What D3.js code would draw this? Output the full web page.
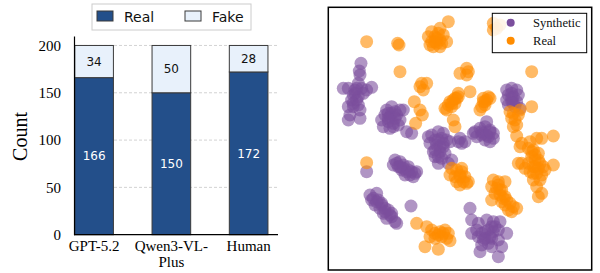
<!DOCTYPE html>
<html>
<head>
<meta charset="utf-8">
<script src="https://cdn.jsdelivr.net/npm/d3@7"></script>
<style>
  body { margin: 0; background: #fff; }
  svg { display: block; }
</style>
</head>
<body>
<svg id="chart" width="600" height="273"></svg>
<script>
// ---- bar chart data ----
var models = ["GPT-5.2", "Qwen3-VL-Plus", "Human"];
var modelLines = [["GPT-5.2"], ["Qwen3-VL-", "Plus"], ["Human"]];
var realCounts = [166, 150, 172];
var fakeCounts = [34, 50, 28];
var yTicks = [0, 50, 100, 150, 200];

// ---- t-SNE style embedding ----
var synthetic = [
  [-29.2,21],[-29.7,18.7],[-29.5,17.5],[-30,15],[-34.5,13.5],[-33,13.5],[-31,13],[-29,13.5],[-27.5,13],[-26,13.8],
  [-31.5,11.5],[-30,11],[-32,10],[-33,8],[-31.5,8],[-29.5,7],[-32.5,5.5],[-33,4],[-29.5,4.5],[-30.5,10],[-28.5,12],
  [-31,12],[-30.5,13.5],[-31.5,9],[-30,8.5],
  [-20,8],[-21.5,7],[-19,6.5],[-17.5,7],[-16.5,7],[-22,5.5],[-20.5,5],[-18.5,5.5],[-23,4],[-21,3.5],[-19.5,3],
  [-18,2.5],[-22.5,2],[-20.5,1.5],[-17.5,4],[-15.5,0.5],[-14,0],[-21,6],
  [-20,6],[-19,4.5],[-21,4.5],[-19.5,2],
  [-8,-0.5],[-6,0.5],[-4.5,0],[-7,-2],[-5,-1.5],[-3.5,-2],[-8.5,-3],[-6.5,-3.5],[-4.5,-4],[-2.5,-2.5],[-7.5,-5.5],
  [-5.5,-5.5],[-4,-6],[-7,-7],[-5,-7.5],[-6,-9],[-3,-9],[-2,-8],[-9,-1],
  [-6,-2],[-5.5,-4],[-7,-5],[-4.5,-3],[-6,-7],
  [0.5,-1.5],[2,-2.5],[1,-3],[0,-2.5],
  [5,0.5],[6.5,1.5],[8,2],[9.5,1],[10.5,0],[5.5,-1],[7,-0.5],[9,-1],[10.5,-1.5],[8,-2],[9.5,-2.5],[4.5,0],[8.5,3.5],[7,0.5],
  [7.5,0],[8.5,-0.5],[9.5,0.5],
  [14.5,13],[16,13.5],[17.5,13],[15,11.5],[16.5,11],[18,11.5],[14.5,10],[16,9.5],[17.5,9.5],[15,8.5],[17,8],[18.5,7.5],
  [16,12],[16,10.5],[16.5,9],
  [-19,-8],[-17.5,-8.5],[-19.5,-9.5],[-18,-10],[-16.5,-9.5],[-15,-10],[-17,-11],[-15.5,-11.5],[-14,-11.5],[-16,-12.5],
  [-14.5,-12.5],[-13,-12],[-12.5,-11.5],[-13.5,-13],[-18.5,-9],
  [-16.5,-10.5],[-15,-11],[-17.5,-10],
  [-27.5,-11.5],
  [-26.5,-18.5],[-24.5,-18],[-25.5,-19.5],[-24,-20],[-23,-21],[-25,-21.5],[-23.5,-22.5],[-22,-22.5],[-21,-23],[-22.5,-24],
  [-20.5,-24.5],[-21.5,-25.5],[-20,-25],[-19,-26.5],[-18.5,-27],[-26,-20],[-20,-24],
  [-23,-21.5],[-22,-23.5],[-24.5,-20.5],
  [-14.2,-21.8],
  [3.5,-22.5],[4,-26],[6,-27],[8.5,-26],[10.5,-26.5],[12.5,-26.5],[14.5,-30],[5.5,-29],[7,-30],[9,-29],[10.5,-29.5],[12,-29],
  [6,-31],[8,-31.5],[10,-31.5],[12,-32],[7,-33.5],[9,-33],[10,-34],[6.5,-35.5],[12,-37],[4,-30],[13,-34],[11,-28],
  [8,-29.5],[9.5,-31],[7.5,-32],[10,-28]
];
var real = [
  [-27.5,27.5],[-18.2,27],[-17.8,26.5],[-17.5,18.5],[-27.5,-8.8],[22,18.5],[22,8],[28.5,-0.8],
  [-8,30.5],[-5.5,31.5],[-3,33.5],[-9,29],[-7,29],[-4.5,29.5],[-8,27.5],[-5.5,28],[-3.5,27.5],[-7.5,26],[-5.5,26],
  [-6.5,27],[-8.5,26.5],[-5,27],[-6.5,28.5],[-7,27.5],[-6,30],
  [10.5,33],[11.5,31.5],[10.5,31],[12.5,32.5],
  [0.5,18],[2.5,19.5],[3,18.5],[2.5,17.5],
  [-11,15],[-9.5,15],[-10.5,13],[-11.5,14],
  [-13.2,9.5],[-11.5,7],[-10.8,5.5],[-12.8,3],
  [0,12],[-0.5,10.5],[-1.5,10],[-2.5,9.5],[-3,8.5],[-4,7.5],[-2,8],[-1,9],[-3.5,7],[0,11],[3.5,12.5],[-1.5,4],[-1,2],
  [-2,9],[-1,10.5],
  [9,11],[8.5,10],[7.5,9.5],[8,8.5],[7,8],[6.5,7],[9.5,10.5],[7.5,10.5],[8,9.5],
  [15.5,6.5],[16.5,6],[18,5.5],[17,4],[16,4.5],[17.5,2.5],[16.5,2],[18.5,7],
  [17.5,-0.8],[19,-3],[18.5,-4],
  [21.5,-2.5],[23.5,-1.5],[25,-1.5],[21,-4.5],[22.5,-5],[24,-6],[22,-7],[23,-8],[24.5,-9],[25.5,-10],[21,-9],[22.5,-10],
  [24,-10.5],[26,-11],[21.5,-11.5],[23.5,-12],[25,-12.5],[22.5,-14],[24.5,-14],[23.5,-16],[24,-19],[25,-18],[28.5,-9.5],
  [20,-10.5],[19,-9],[22,-5.5],[18,-9],[23,-10],[23,-6.5],[22.5,-12],[24,-8],
  [-2,-10.5],[-0.5,-11],[1,-10.5],[-2.5,-12.5],[-1,-13],[0.5,-12.5],[2,-13],[-0.5,-14.5],[1.5,-14.5],[3,-14.5],[0.5,-15.5],[2.5,-15],
  [0.5,-13],[1,-11.5],
  [10.5,-14],[12,-14.5],[14,-14.5],[10,-16],[11.5,-16.5],[13,-17],[11,-18],[12.5,-18.5],[14,-19],[10,-20],[14.5,-20],
  [15.5,-21],[14,-21.5],[16.5,-22],[17.5,-22.5],[16,-23.5],[15,-23],[13,-20.5],[12.5,-17],[13.5,-19.5],[12,-15.5],
  [-12.5,-27],[-9.5,-28],[-8,-29],[-7,-30],[-8.5,-31],[-5.5,-29.5],[-4,-29],[-3,-30],[-5,-31],[-3.5,-31.5],[-10,-34],
  [-6,-34.8],[-2.5,-32.2],[-7,-31.5],[-6,-30.5],[-4.5,-30]
];
var scatterSeries = ["Synthetic", "Real"];

var realColor = "#234f8a", fakeColor = "#e8f1fb";
var synColor = "#7b4f9d", realPtColor = "#ff8c00";

var svg = d3.select("#chart");

// ================= left: stacked bars =================
var x = d3.scaleLinear().domain([-0.26, 2.38]).range([74, 278]);
var y = d3.scaleLinear().domain([0, 210]).range([234.7, 36]);
var bw = x(0.5) - x(0);

var left = svg.append("g");

left.selectAll(".grid")
  .data(yTicks.filter(function(d) { return d > 0; }))
  .enter().append("line")
  .attr("x1", x(-0.26)).attr("x2", x(2.38))
  .attr("y1", function(d) { return y(d); })
  .attr("y2", function(d) { return y(d); })
  .attr("stroke", "#c8c8c8")
  .attr("stroke-width", 0.8)
  .attr("stroke-dasharray", "3,2");

var bars = left.selectAll(".bar")
  .data(models)
  .enter().append("g");

bars.append("rect")
  .attr("x", function(d, i) { return x(i) - bw / 2; })
  .attr("width", bw)
  .attr("y", function(d, i) { return y(realCounts[i]); })
  .attr("height", function(d, i) { return y(0) - y(realCounts[i]); })
  .attr("fill", realColor)
  .attr("stroke", "#3a3a3a")
  .attr("stroke-width", 1);

bars.append("rect")
  .attr("x", function(d, i) { return x(i) - bw / 2; })
  .attr("width", bw)
  .attr("y", function(d, i) { return y(realCounts[i] + fakeCounts[i]); })
  .attr("height", function(d, i) { return y(realCounts[i]) - y(realCounts[i] + fakeCounts[i]); })
  .attr("fill", fakeColor)
  .attr("stroke", "#3a3a3a")
  .attr("stroke-width", 1);

bars.append("text")
  .attr("x", function(d, i) { return x(i); })
  .attr("y", function(d, i) { return y(realCounts[i] / 2); })
  .attr("dy", "0.36em")
  .attr("text-anchor", "middle")
  .attr("font-family", "DejaVu Sans")
  .attr("font-size", 12)
  .attr("fill", "#fff")
  .text(function(d, i) { return realCounts[i]; });

bars.append("text")
  .attr("x", function(d, i) { return x(i); })
  .attr("y", function(d, i) { return y(realCounts[i] + fakeCounts[i] / 2); })
  .attr("dy", "0.36em")
  .attr("text-anchor", "middle")
  .attr("font-family", "DejaVu Sans")
  .attr("font-size", 12)
  .attr("fill", "#111")
  .text(function(d, i) { return fakeCounts[i]; });

// axes
var yAxis = left.append("g")
  .attr("transform", "translate(" + x(-0.26) + ",0)")
  .call(d3.axisLeft(y).tickValues(yTicks).tickSize(0).tickPadding(13));
yAxis.select(".domain").attr("stroke", "#000").attr("stroke-width", 1.2);
yAxis.selectAll("text")
  .attr("font-family", "Liberation Serif")
  .attr("font-size", 15)
  .attr("fill", "#000");

left.append("line")
  .attr("x1", x(-0.26)).attr("x2", x(2.38))
  .attr("y1", y(0)).attr("y2", y(0))
  .attr("stroke", "#000").attr("stroke-width", 1.2);

var xl = left.selectAll(".xlab")
  .data(modelLines)
  .enter().append("text")
  .attr("text-anchor", "middle")
  .attr("font-family", "Liberation Serif")
  .attr("font-size", 15)
  .attr("fill", "#000");
xl.selectAll("tspan")
  .data(function(d, i) { return d.map(function(s, k) { return { s: s, i: i, k: k }; }); })
  .enter().append("tspan")
  .attr("x", function(d) { return x(d.i); })
  .attr("y", function(d) { return 250.5 + d.k * 16; })
  .text(function(d) { return d.s; });

left.append("text")
  .attr("transform", "translate(27,136.5) rotate(-90)")
  .attr("text-anchor", "middle")
  .attr("font-family", "Liberation Serif")
  .attr("font-size", 20)
  .attr("fill", "#000")
  .text("Count");

// bar legend
var lg = left.append("g");
lg.append("rect")
  .attr("x", 92).attr("y", 4).attr("width", 159).attr("height", 26)
  .attr("fill", "#fff").attr("stroke", "#cccccc").attr("stroke-width", 1);
var legItems = [{ name: "Real", c: realColor, px: 97 }, { name: "Fake", c: fakeColor, px: 185 }];
legItems.forEach(function(d) {
  lg.append("rect")
    .attr("x", d.px).attr("y", 11).attr("width", 16).attr("height", 10)
    .attr("fill", d.c).attr("stroke", "#3a3a3a").attr("stroke-width", 1);
  lg.append("text")
    .attr("x", d.px + 27).attr("y", 21.5)
    .attr("font-family", "DejaVu Sans")
    .attr("font-size", 14)
    .attr("fill", "#111")
    .text(d.name);
});

// ================= right: scatter =================
var sx = d3.scaleLinear().domain([-39, 40]).range([328.3, 591.7]);
var sy = d3.scaleLinear().domain([-41, 37.8]).range([270, 7.3]);
var right = svg.append("g");

right.selectAll(".syn")
  .data(synthetic)
  .enter().append("circle")
  .attr("cx", function(d) { return sx(d[0]); })
  .attr("cy", function(d) { return sy(d[1]); })
  .attr("r", 6.5)
  .attr("fill", synColor)
  .attr("fill-opacity", 0.6);

right.selectAll(".real")
  .data(real)
  .enter().append("circle")
  .attr("cx", function(d) { return sx(d[0]); })
  .attr("cy", function(d) { return sy(d[1]); })
  .attr("r", 6.5)
  .attr("fill", realPtColor)
  .attr("fill-opacity", 0.6);

right.append("rect")
  .attr("x", 328.3).attr("y", 7.3)
  .attr("width", 591.7 - 328.3).attr("height", 270 - 7.3)
  .attr("fill", "none").attr("stroke", "#000").attr("stroke-width", 1.5);

var sl = right.append("g");
sl.append("rect")
  .attr("x", 492.3).attr("y", 13.3).attr("width", 94.4).attr("height", 39.4)
  .attr("fill", "#fff").attr("fill-opacity", 0.85)
  .attr("stroke", "#000").attr("stroke-width", 1);
sl.selectAll(".li")
  .data(scatterSeries)
  .enter().append("circle")
  .attr("cx", 510.7)
  .attr("cy", function(d, i) { return 22.7 + i * 18; })
  .attr("r", 4)
  .attr("fill", function(d, i) { return i === 0 ? synColor : realPtColor; });
sl.selectAll(".lt")
  .data(scatterSeries)
  .enter().append("text")
  .attr("x", 533)
  .attr("y", function(d, i) { return 27 + i * 18; })
  .attr("font-family", "Liberation Serif")
  .attr("font-size", 12.6)
  .attr("fill", "#111")
  .text(function(d) { return d; });
</script>
</body>
</html>
